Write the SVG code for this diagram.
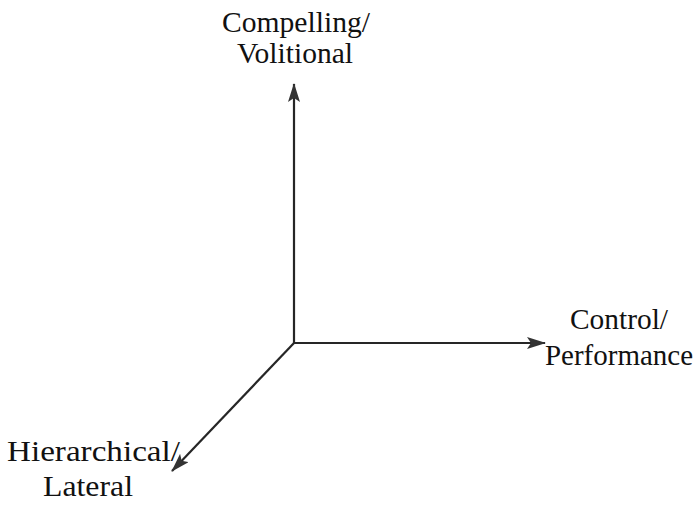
<svg xmlns="http://www.w3.org/2000/svg" width="695" height="505" viewBox="0 0 695 505">
<style>
.lbl{font-family:"Liberation Serif","Times New Roman",serif;font-size:29px;fill:#111}
.ax{stroke:#262626;stroke-width:2.2;fill:none}
</style>
<defs>
<marker id="ah" viewBox="0 0 19 12" refX="18" refY="6" markerWidth="19" markerHeight="12" markerUnits="userSpaceOnUse" orient="auto">
<path d="M0,0 L19,6 L0,12 L4,6 Z" fill="#333"/>
</marker>
</defs>
<rect width="695" height="505" fill="#fff"/>
<g id="connectors">
<line class="ax" x1="294" y1="343" x2="294" y2="84" marker-end="url(#ah)"/>
<line class="ax" x1="294" y1="343" x2="545" y2="343" marker-end="url(#ah)"/>
<line class="ax" x1="294" y1="343" x2="172" y2="471" marker-end="url(#ah)"/>
</g>
<g id="node-compelling">
<text class="lbl" x="222" y="32" textLength="148" lengthAdjust="spacingAndGlyphs">Compelling/</text>
<text class="lbl" x="237" y="63" textLength="116" lengthAdjust="spacingAndGlyphs">Volitional</text>
</g>
<g id="node-control">
<text class="lbl" x="570" y="329" textLength="98" lengthAdjust="spacingAndGlyphs">Control/</text>
<text class="lbl" x="545" y="365" textLength="148" lengthAdjust="spacingAndGlyphs">Performance</text>
</g>
<g id="node-hierarchical">
<text class="lbl" x="7" y="461" textLength="173" lengthAdjust="spacingAndGlyphs">Hierarchical/</text>
<text class="lbl" x="43" y="496" textLength="90" lengthAdjust="spacingAndGlyphs">Lateral</text>
</g>
</svg>
